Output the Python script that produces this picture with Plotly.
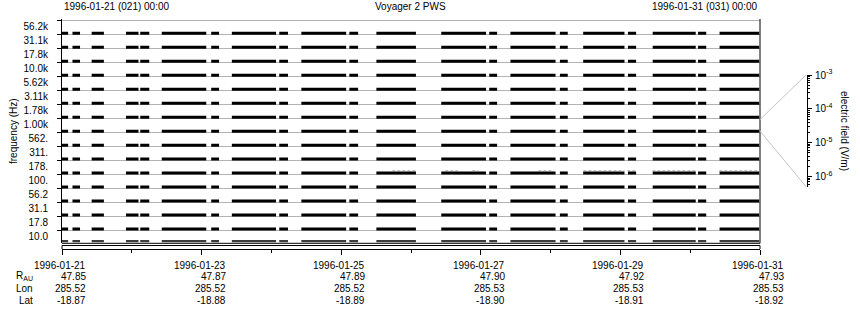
import pandas as pd
import plotly.graph_objects as go

# ---------------- data ----------------
start_time = "1996-01-21 00:00"
end_time = "1996-01-31 00:00"

channel_labels = ["10.0", "17.8", "31.1", "56.2", "100.", "178.", "311.", "562.",
                  "1.00k", "1.78k", "3.11k", "5.62k", "10.0k", "17.8k", "31.1k", "56.2k"]

# data-coverage segments (hours after start), identical in every channel
seg_start_h = [0.0, 3.6, 10.2, 22.0, 26.9, 34.3, 51.3, 58.4, 74.7, 82.3, 98.8,
               108.1, 130.4, 146.9, 154.2, 171.2, 179.2, 194.6, 203.1, 218.7, 226.1]
seg_end_h = [2.1, 6.2, 14.4, 26.3, 30.0, 49.6, 54.0, 73.6, 77.7, 97.7, 101.8,
             121.7, 145.8, 149.6, 169.7, 173.9, 193.4, 197.4, 217.9, 221.5, 239.7]

# weak-signal (gray) segments in the 178 Hz channel (hours after start)
noise_channel = 5
noise_start_h = [113.6, 131.8, 141.1, 163.8, 179.3, 194.4, 203.0, 226.0]
noise_end_h = [121.5, 136.0, 143.2, 169.0, 193.4, 197.1, 217.8, 239.5]

tick_dates = ["1996-01-21", "1996-01-23", "1996-01-25", "1996-01-27", "1996-01-29", "1996-01-31"]
r_au = ["47.85", "47.87", "47.89", "47.90", "47.92", "47.93"]
lon = ["285.52", "285.52", "285.52", "285.53", "285.53", "285.53"]
lat = ["-18.87", "-18.88", "-18.89", "-18.90", "-18.91", "-18.92"]

efield_ticks = [1e-6, 1e-5, 1e-4, 1e-3]
efield_text = ["10<sup>-6</sup>", "10<sup>-5</sup>", "10<sup>-4</sup>", "10<sup>-3</sup>"]

# ---------------- layout helpers ----------------
W, H = 860, 320
L, R, T, B = 62, 10, 19, 71
PW, PH = W - L - R, H - T - B


def px(x):
    return (x - L) / PW


def py(y):
    return 1 - (y - T) / PH


FONT = "Liberation Sans, Arial, sans-serif"
t0 = pd.Timestamp(start_time)


def to_dt(h):
    return t0 + pd.to_timedelta(h, unit="h")


fig = go.Figure()

# gray weak-signal marks
nx, ny = [], []
for s, e in zip(noise_start_h, noise_end_h):
    nx += [to_dt(s), to_dt(e), None]
    ny += [noise_channel + 0.25, noise_channel + 0.25, None]
fig.add_trace(go.Scatter(x=nx, y=ny, mode="lines",
                         line=dict(color="#c2c2c2", width=1.3, dash="3px,2px"),
                         hoverinfo="skip", showlegend=False))

# black data bars for each channel
for k in range(len(channel_labels)):
    yv = k + 0.07 if k > 0 else 0.21
    col = "black" if k > 0 else "#3c3c3c"
    wd = 3 if k > 0 else 2.3
    xs, ys = [], []
    for s, e in zip(seg_start_h, seg_end_h):
        xs += [to_dt(s), to_dt(e), None]
        ys += [yv, yv, None]
    fig.add_trace(go.Scatter(x=xs, y=ys, mode="lines", line=dict(color=col, width=wd),
                             hoverinfo="skip", showlegend=False))

# invisible anchor trace for the electric-field scale axis
fig.add_trace(go.Scatter(x=[t0], y=[1e-4], yaxis="y2", mode="markers",
                         marker=dict(opacity=0), hoverinfo="skip", showlegend=False))

x_right = px(760)

fig.update_layout(
    width=W, height=H,
    margin=dict(l=L, r=R, t=T, b=B, pad=0),
    paper_bgcolor="white", plot_bgcolor="rgba(0,0,0,0)",
    font=dict(family=FONT, size=10, color="black"),
    showlegend=False,
    xaxis=dict(
        type="date", range=[start_time, end_time], domain=[0, x_right],
        anchor="free", position=0,
        showgrid=False, zeroline=False, showline=True, linecolor="black", linewidth=1,
        tickmode="array", tickvals=tick_dates, ticks="outside", ticklen=5,
        tickcolor="black", tickwidth=1, showticklabels=False,
        minor=dict(dtick=86400000, tick0=start_time, ticks="outside", ticklen=3,
                   tickcolor="black", tickwidth=1, showgrid=False),
    ),
    yaxis=dict(
        range=[0.049, 16.09], domain=[py(243.3), 1], anchor="x",
        showgrid=False, zeroline=False, showline=True, linecolor="black", linewidth=1,
        tickmode="array", tickvals=[k + 0.55 for k in range(len(channel_labels))],
        ticktext=channel_labels, ticks="", ticklabelstandoff=11,
        tickfont=dict(size=10, family=FONT, color="black"),
        minor=dict(tickmode="array", tickvals=list(range(1, 17)), ticks="outside",
                   ticklen=4, tickcolor="black", tickwidth=1,
                   showgrid=True, gridcolor="#b4b4b4", gridwidth=1),
    ),
    yaxis2=dict(
        type="log", range=[-6.3, -3], domain=[py(186.7), py(75)],
        anchor="free", position=px(807), side="right",
        showgrid=False, zeroline=False, showline=True, linecolor="black", linewidth=1,
        tickmode="array", tickvals=efield_ticks, ticktext=efield_text,
        ticks="outside", ticklen=4, tickcolor="black", ticklabelstandoff=1,
        tickfont=dict(size=10, family=FONT, color="black"),
        minor=dict(tickmode="array",
                   tickvals=[m * d for d in [1e-7, 1e-6, 1e-5, 1e-4] for m in range(2, 10)],
                   ticks="outside", ticklen=2, tickcolor="black", showgrid=False),
    ),
)

shapes = []
# right and bottom border of plot box
shapes.append(dict(type="line", xref="paper", yref="paper", x0=x_right, x1=x_right,
                   y0=py(243.3), y1=1, line=dict(color="black", width=1)))
shapes.append(dict(type="line", xref="paper", yref="paper", x0=0, x1=x_right,
                   y0=py(243.3), y1=py(243.3), line=dict(color="black", width=1)))
# thin strip below plot
shapes.append(dict(type="line", xref="paper", yref="paper", x0=0, x1=x_right,
                   y0=py(245.5), y1=py(245.5), line=dict(color="black", width=1)))
shapes.append(dict(type="line", xref="paper", yref="paper", x0=0, x1=0,
                   y0=0, y1=py(245.5), line=dict(color="black", width=1)))
shapes.append(dict(type="line", xref="paper", yref="paper", x0=x_right, x1=x_right,
                   y0=0, y1=py(245.5), line=dict(color="black", width=1)))
# fan lines to the colour-scale axis
shapes.append(dict(type="line", xref="paper", yref="paper", x0=x_right, x1=px(806),
                   y0=py(119.5), y1=py(75), line=dict(color="#c4c4c4", width=1)))
shapes.append(dict(type="line", xref="paper", yref="paper", x0=x_right, x1=px(806),
                   y0=py(131), y1=py(186.7), line=dict(color="#c4c4c4", width=1)))
fig.update_layout(shapes=shapes)

ann = []
# titles
ann.append(dict(text="1996-01-21 (021) 00:00", x=0, y=py(6), xref="paper", yref="paper",
                xanchor="left", yanchor="middle", showarrow=False))
ann.append(dict(text="Voyager 2 PWS", x=px(410), y=py(6), xref="paper", yref="paper",
                xanchor="center", yanchor="middle", showarrow=False))
ann.append(dict(text="1996-01-31 (031) 00:00", x=x_right, y=py(6), xref="paper", yref="paper",
                xanchor="right", yanchor="middle", showarrow=False))
# axis titles
ann.append(dict(text="frequency (Hz)", x=px(13), y=py(131), xref="paper", yref="paper",
                textangle=-90, xanchor="center", yanchor="middle", showarrow=False))
ann.append(dict(text="electric field (V/m)", x=px(845), y=py(131), xref="paper", yref="paper",
                textangle=90, xanchor="center", yanchor="middle", showarrow=False))
# bottom rows
rows_y = [265, 276.3, 288.5, 300.8]
for i, d in enumerate(tick_dates):
    for row, vals in enumerate([tick_dates, r_au, lon, lat]):
        ann.append(dict(text=vals[i], x=d, y=py(rows_y[row]), xref="x", yref="paper",
                        xanchor="right", yanchor="middle", xshift=26, showarrow=False))
for row, lab in enumerate(["R<sub>AU</sub>", "Lon", "Lat"]):
    ann.append(dict(text=lab, x=0, y=py(rows_y[row + 1]), xref="paper", yref="paper",
                    xanchor="right", yanchor="middle", xshift=-27, showarrow=False))
fig.update_layout(annotations=ann)

fig.write_html("out.html")
